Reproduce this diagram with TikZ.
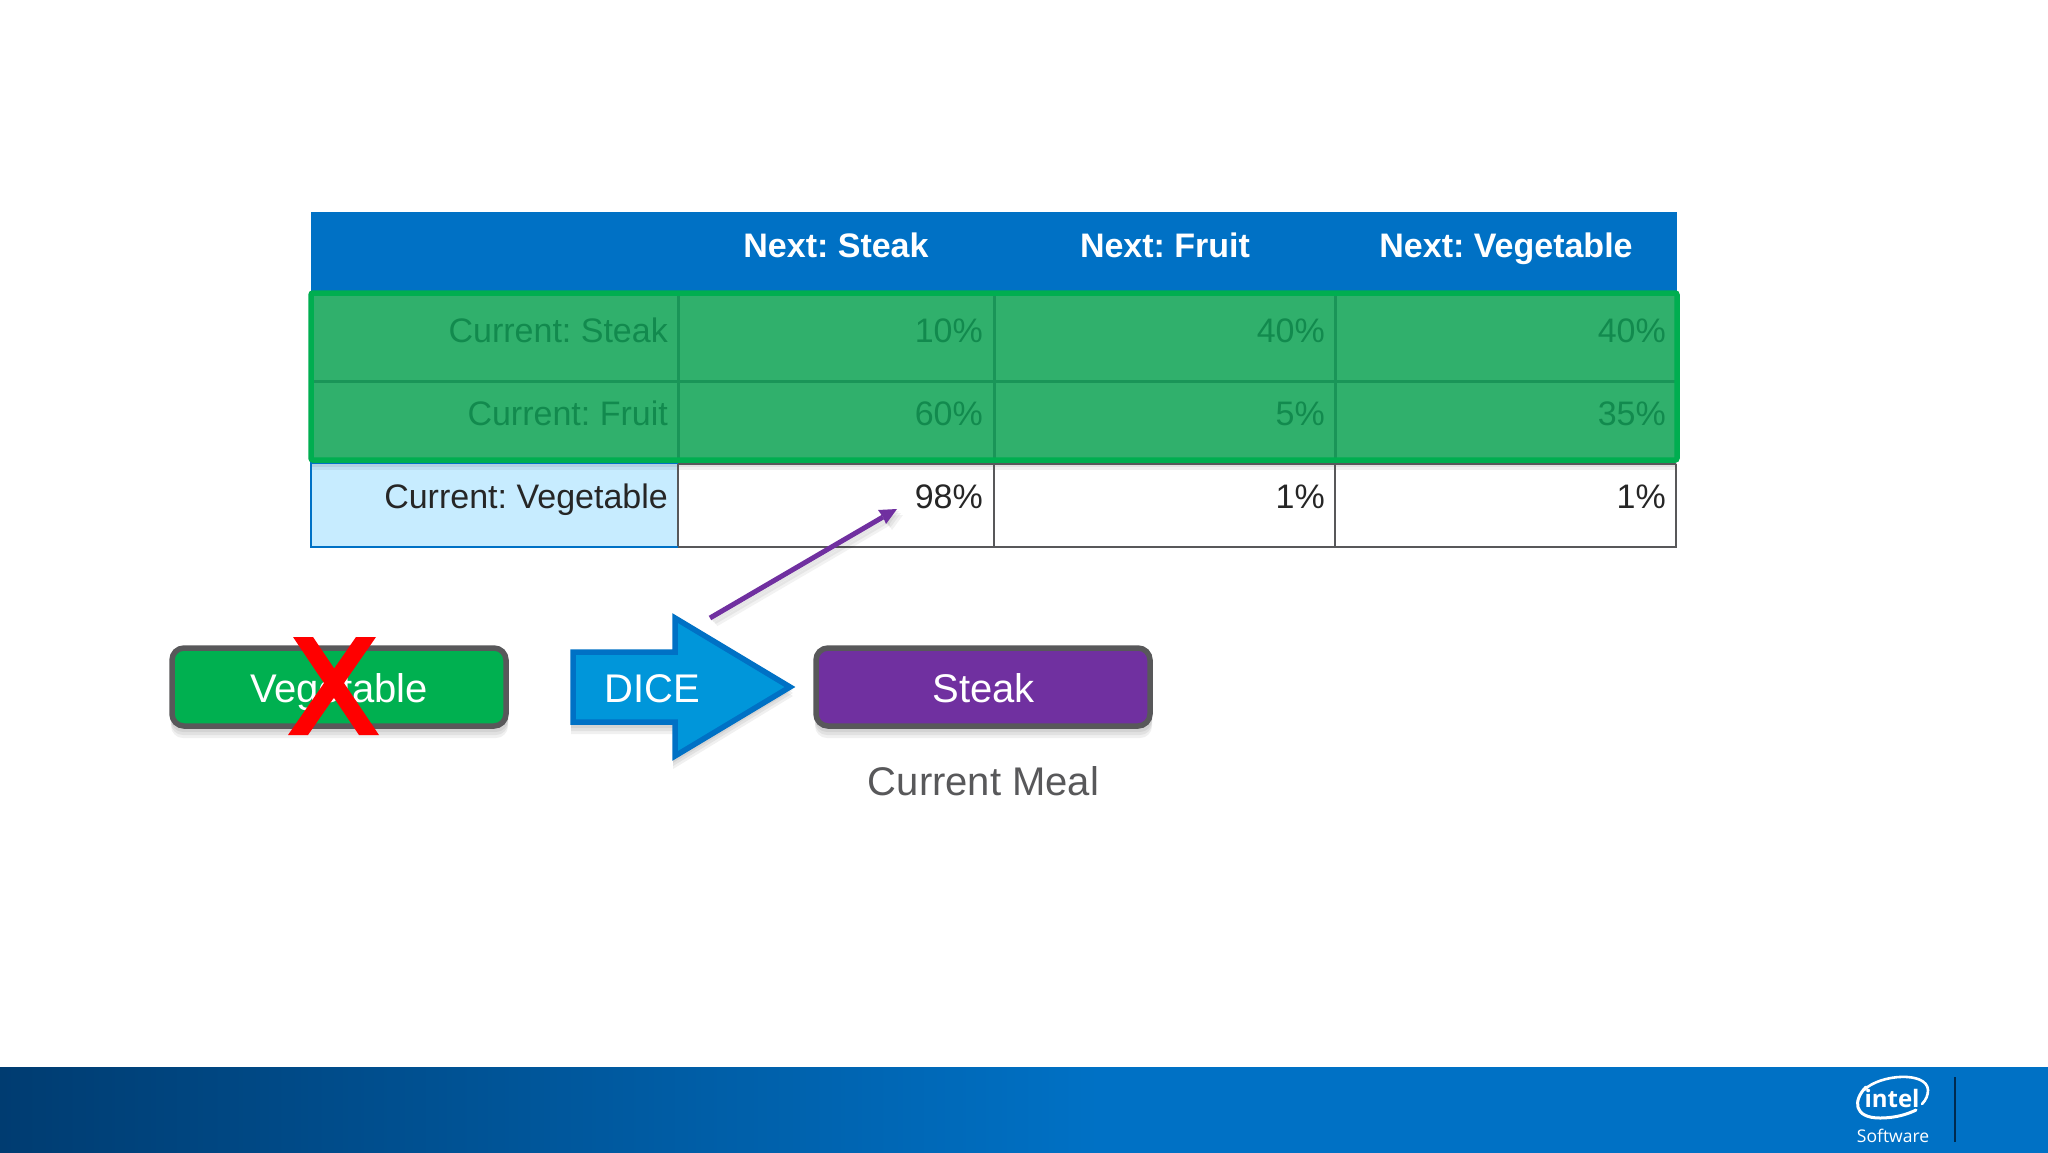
\documentclass[tikz,border=0pt]{standalone}
\usepackage{fontspec}
\setmainfont{Liberation Sans}
\newfontfamily\logofont{Open Sans}
\usetikzlibrary{calc}
\definecolor{ihead}{HTML}{0071C5}
\definecolor{idark}{HTML}{003C71}
\definecolor{gborder}{HTML}{00AE50}
\definecolor{gfill}{HTML}{30B06C}
\definecolor{gline}{HTML}{1A9558}
\definecolor{gtext}{HTML}{128A4E}
\definecolor{lightb}{HTML}{C7ECFF}
\definecolor{slate}{HTML}{58585A}
\definecolor{vgreen}{HTML}{00B050}
\definecolor{vpurple}{HTML}{7030A0}
\definecolor{dblue}{HTML}{0096DA}
\definecolor{inktext}{HTML}{262626}
\newcommand{\fs}[1]{\fontsize{#1}{#1}\selectfont}
\frenchspacing
\tikzset{
  headtext/.style={text=white,font=\frenchspacing\fs{34}\bfseries,inner sep=0pt,anchor=base},
  celltext/.style={text=inktext,font=\frenchspacing\fs{34},inner sep=0pt,anchor=base east},
  dimtext/.style={celltext,text=gtext},
  mealbox/.style={rounded corners=12,draw=slate,line width=5.5,minimum width=334,minimum height=78,inner sep=0pt,anchor=center},
  boxtext/.style={text=white,font=\frenchspacing\fs{40},inner sep=0pt,anchor=base},
  softshade/.style={fill=black,fill opacity=0.06,draw=none},
  gridline/.style={draw=slate,line width=2.7},
  dimline/.style={draw=gline,line width=3},
}
\begin{document}
\begin{tikzpicture}[x=1pt,y=-1pt]
\useasboundingbox (0,0) rectangle (2048,1152);
\fill[white] (0,0) rectangle (2048,1152);
% footer
\path[clip] (0,0) rectangle (2048,1152);
\shade[left color=idark,right color=ihead,shading angle=90] (0,1067) rectangle (1100,1156);
\fill[ihead] (1099,1067) rectangle (2050,1156);
% header band
\fill[ihead] (311,212) rectangle (1677,292);
% bottom row
\fill[lightb] (311,463) rectangle (678,547);
\fill[white] (678,463) rectangle (1676,547);
\foreach \o in {3,6,9}{\fill[black,fill opacity=0.06] (311,461) rectangle (1677,461+\o);}
\draw[gridline] (678,464) -- (678,547) -- (1676,547) -- (1676,464);
\draw[gridline] (994,464) -- (994,547);
\draw[gridline] (1335,464) -- (1335,547);
\draw[gridline] (678,464) -- (1676,464);
\draw[draw=ihead,line width=2.4] (678,547) -- (311,547) -- (311,463) -- (678,463);
% green overlay
\fill[gfill] (311,292) rectangle (1677,461);
\draw[dimline] (313,381) -- (1675,381);
\draw[dimline] (678,296) -- (678,460);
\draw[dimline] (994,296) -- (994,460);
\draw[dimline] (1335,296) -- (1335,460);
\draw[draw=gborder,line width=5.5,rounded corners=2] (311,293) rectangle (1677,460);
% header labels
\node[headtext] (h1) at (836,257) {Next: Steak};
\node[headtext] (h2) at (1165,257) {Next: Fruit};
\node[headtext] (h3) at (1506,257) {Next: Vegetable};
% row labels
\node[dimtext] (r1) at (668,342) {Current: Steak};
\node[dimtext] (c11) at (983,342) {10\%};
\node[dimtext] (c12) at (1325,342) {40\%};
\node[dimtext] (c13) at (1666,342) {40\%};
\node[dimtext] (r2) at (668,425) {Current: Fruit};
\node[dimtext] (c21) at (983,425) {60\%};
\node[dimtext] (c22) at (1325,425) {5\%};
\node[dimtext] (c23) at (1666,425) {35\%};
\node[celltext] (r3) at (668,508) {Current: Vegetable};
\node[celltext] (c31) at (983,508) {98\%};
\node[celltext] (c32) at (1325,508) {1\%};
\node[celltext] (c33) at (1666,508) {1\%};
% soft shadows
\foreach \o in {3,6,9}{
  \fill[softshade,rounded corners=12] (171,650+\o) rectangle (508,729+\o);
  \fill[softshade,rounded corners=12] (815,650+\o) rectangle (1152,729+\o);
  \fill[softshade] (571,650+\o) -- (673,650+\o) -- (673,614+\o) -- (793,687+\o) -- (673,760+\o) -- (673,725+\o) -- (571,725+\o) -- cycle;
}
% boxes
\node[mealbox,fill=vgreen] (veg) at (339,687) {};
\node[boxtext] (vegt) at (339,702) {Vegetable};
\node[mealbox,fill=vpurple] (steak) at (983,687) {};
\node[boxtext] (steakt) at (983.5,702) {Steak};
\node[boxtext,text=slate] (meal) at (983.5,795.5) {Current Meal};
% red cross
\fill[red] (293,637) -- (313,637) -- (379,735) -- (359,735) -- cycle;
\fill[red] (356,637) -- (376,637) -- (308,735) -- (288,735) -- cycle;
% dice arrow
\draw[fill=dblue,draw=ihead,line width=5.5,miter limit=10]
  (573,652) -- (675,652) -- (675,618) -- (790,687) -- (675,756) -- (675,722) -- (573,722) -- cycle;
\node[boxtext] (dice) at (652,702.5) {DICE};
% connector
\coordinate (pstart) at (710,618);
\coordinate (pend) at (897,509);
\coordinate (pneck) at ($(pend)+(-14,8)$);
\foreach \o in {2,4,6}{
  \draw[black,opacity=0.05,line width=5] ($(pstart)+(\o,\o)$) -- ($(pneck)+(\o,\o)$);
  \fill[black,opacity=0.05] ($(pend)+(\o,\o)$) -- ($(pend)+(\o-19,\o+1)$) -- ($(pend)+(\o-11,\o+15)$) -- cycle;
}
\draw[vpurple,line width=5] (pstart) -- (pneck);
\fill[vpurple] (pend) -- ($(pend)+(-19,1)$) -- (pneck) -- ($(pend)+(-11,15)$) -- cycle;
% logo
\draw[white,line width=3,line cap=round] (1866,1087) .. controls (1853,1100) and (1853,1118) .. (1880,1118) .. controls (1896,1118) and (1908,1114) .. (1916,1110);
\draw[white,line width=2.6,line cap=round] (1864,1090) .. controls (1880,1074) and (1927,1071) .. (1928,1090) .. controls (1928,1095) and (1926,1100) .. (1922,1104);
\node[text=white,font=\logofont\fs{24}\bfseries,inner sep=0pt] (intel) at (1892,1098) {intel};
\node[text=white,font=\logofont\fs{17.5},inner sep=0pt] (soft) at (1893,1136) {Software};
\coordinate (ra) at (1955,1077);
\coordinate (rb) at (1955,1142);
\draw[idark!70!black,line width=2.2] (ra) -- (rb);
\end{tikzpicture}
\end{document}
